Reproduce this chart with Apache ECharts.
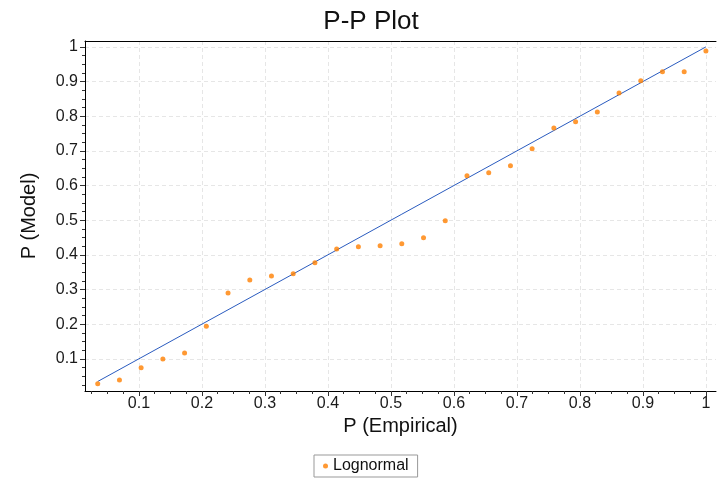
<!DOCTYPE html>
<html>
<head>
<meta charset="utf-8">
<script src="https://cdn.jsdelivr.net/npm/echarts@6/dist/echarts.min.js"></script>
<style>
  html, body { margin: 0; padding: 0; background: #fff; }
  #chart { width: 717px; height: 480px; }
</style>
</head>
<body>
<div id="chart"></div>
<script>
// Empirical cumulative probabilities (plotting positions)
const empiricalP = [
  0.0345, 0.0690, 0.1034, 0.1379, 0.1724, 0.2069, 0.2414, 0.2759, 0.3103, 0.3448,
  0.3793, 0.4138, 0.4483, 0.4828, 0.5172, 0.5517, 0.5862, 0.6207, 0.6552, 0.6897,
  0.7241, 0.7586, 0.7931, 0.8276, 0.8621, 0.8966, 0.9310, 0.9655, 1.0000
];
// Fitted lognormal CDF at each observation
const modelP = [
  0.028, 0.039, 0.074, 0.099, 0.117, 0.194, 0.290, 0.327, 0.339, 0.345,
  0.377, 0.417, 0.423, 0.426, 0.432, 0.449, 0.498, 0.628, 0.637, 0.657,
  0.706, 0.766, 0.784, 0.812, 0.867, 0.902, 0.928, 0.928, 0.988
];
// Reference diagonal end points
const diagX = [0.0345, 1.0];
const diagY = [0.0345, 1.0];

// Tick labels on both axes
const majorTicks = [0.1, 0.2, 0.3, 0.4, 0.5, 0.6, 0.7, 0.8, 0.9, 1.0];

const minorTicks = [];
for (let k = 1; k <= 40; k++) minorTicks.push(k * 0.025);

const xRange = { min: 0.0143, max: 1.016 };
const yRange = { min: 0.007, max: 1.017 };

const FONT = '"Liberation Sans", Arial, sans-serif';
const labelFmt = v => String(Math.round(v * 10) / 10);

const chart = echarts.init(document.getElementById('chart'), null, { renderer: 'canvas' });

const majorAxis = (range, extra) => Object.assign({
  type: 'value',
  min: range.min,
  max: range.max,
  axisLine: { show: true, onZero: false, lineStyle: { color: '#000', width: 1 } },
  axisTick: { show: true, customValues: majorTicks, length: 5, lineStyle: { color: '#333' } },
  axisLabel: { customValues: majorTicks, formatter: labelFmt, color: '#1a1a1a', fontSize: 16, fontFamily: FONT },
  splitLine: { show: true, lineStyle: { color: '#e6e6e6', type: [4, 3], width: 1 } },
  nameLocation: 'middle',
  nameTextStyle: { fontSize: 20, color: '#111', fontFamily: FONT }
}, extra);

const minorAxis = (range, pos) => ({
  type: 'value',
  position: pos,
  min: range.min,
  max: range.max,
  axisLine: { show: false },
  axisTick: { show: true, customValues: minorTicks, length: 3, lineStyle: { color: '#333' } },
  axisLabel: { show: false },
  splitLine: { show: false }
});

chart.setOption({
  animation: false,
  backgroundColor: '#fff',
  title: {
    text: 'P-P Plot',
    left: 366,
    textAlign: 'center',
    top: 4,
    textStyle: { fontSize: 26, fontWeight: 'normal', color: '#111', fontFamily: FONT }
  },
  legend: {
    data: ['Lognormal'],
    left: 314,
    top: 455,
    icon: 'circle',
    itemWidth: 5,
    itemHeight: 5,
    itemGap: 6,
    padding: [3, 9, 3, 9],
    borderColor: '#999',
    borderWidth: 1,
    borderRadius: 0,
    textStyle: { fontSize: 16, color: '#111', fontFamily: FONT }
  },
  grid: { left: 85, right: 1, top: 41, bottom: 89, containLabel: false },
  xAxis: [
    majorAxis(xRange, { position: 'bottom', name: 'P (Empirical)', nameGap: 25, axisLabel: { customValues: majorTicks, formatter: labelFmt, color: '#1a1a1a', fontSize: 16, fontFamily: FONT, margin: 5 } }),
    minorAxis(xRange, 'bottom'),
    {
      type: 'value', position: 'top', min: xRange.min, max: xRange.max,
      axisLine: { show: true, lineStyle: { color: '#000', width: 1 } },
      axisTick: { show: false }, axisLabel: { show: false }, splitLine: { show: false }
    }
  ],
  yAxis: [
    majorAxis(yRange, { position: 'left', name: 'P (Model)', nameGap: 46, axisLabel: { customValues: majorTicks, formatter: labelFmt, color: '#1a1a1a', fontSize: 16, fontFamily: FONT, margin: 7 } }),
    minorAxis(yRange, 'left')
  ],
  series: [
    {
      name: 'Diagonal',
      type: 'line',
      xAxisIndex: 0,
      yAxisIndex: 0,
      data: diagX.map((x, i) => [x, diagY[i]]),
      showSymbol: false,
      symbol: 'none',
      lineStyle: { color: '#2a5bbf', width: 1 },
      silent: true,
      z: 2
    },
    {
      name: 'Lognormal',
      type: 'scatter',
      xAxisIndex: 0,
      yAxisIndex: 0,
      data: empiricalP.map((x, i) => [x, modelP[i]]),
      symbol: 'circle',
      symbolSize: 5,
      itemStyle: { color: '#ff8000' },
      z: 3
    }
  ]
});
</script>
</body>
</html>
